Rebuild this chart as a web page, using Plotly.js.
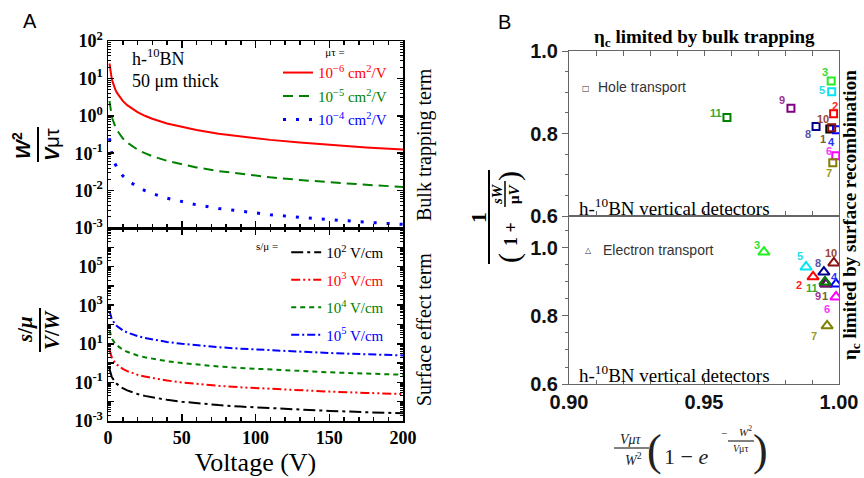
<!DOCTYPE html>
<html><head><meta charset="utf-8">
<script src="https://cdn.plot.ly/plotly-3.0.1.min.js"></script>
<style>html,body{margin:0;padding:0;background:#fff}#chart{width:864px;height:478px}</style>
</head><body><div id="chart"></div>
<script>
// ---------- Data ----------
const voltage = [1, 1.25, 1.5, 2, 2.5, 3, 4, 5, 6, 8, 10, 13, 16, 20, 25, 30, 40, 50, 60, 75, 90, 110, 130, 150, 175, 200];
// Bulk trapping term W^2/(V mu tau)
const bulkMuTau1e6 = [25, 20, 16.7, 12.5, 10, 8.33, 6.25, 5, 4.17, 3.13, 2.5, 1.92, 1.56, 1.25, 1.0, 0.833, 0.625, 0.5, 0.417, 0.333, 0.278, 0.227, 0.192, 0.167, 0.143, 0.125];
const bulkMuTau1e5 = [2.5, 2.0, 1.67, 1.25, 1.0, 0.833, 0.625, 0.5, 0.417, 0.313, 0.25, 0.192, 0.156, 0.125, 0.1, 0.0833, 0.0625, 0.05, 0.0417, 0.0333, 0.0278, 0.0227, 0.0192, 0.0167, 0.0143, 0.0125];
const bulkMuTau1e4 = [0.25, 0.2, 0.167, 0.125, 0.1, 0.0833, 0.0625, 0.05, 0.0417, 0.0313, 0.025, 0.0192, 0.0156, 0.0125, 0.01, 0.00833, 0.00625, 0.005, 0.00417, 0.00333, 0.00278, 0.00227, 0.00192, 0.00167, 0.00143, 0.00125];
// Surface effect term (s/mu)/(V/W)
const surfS1e2 = [0.5, 0.4, 0.333, 0.25, 0.2, 0.167, 0.125, 0.1, 0.0833, 0.0625, 0.05, 0.0385, 0.0313, 0.025, 0.02, 0.0167, 0.0125, 0.01, 0.00833, 0.00667, 0.00556, 0.00455, 0.00385, 0.00333, 0.00286, 0.0025];
const surfS1e3 = [5, 4, 3.33, 2.5, 2, 1.67, 1.25, 1, 0.833, 0.625, 0.5, 0.385, 0.313, 0.25, 0.2, 0.167, 0.125, 0.1, 0.0833, 0.0667, 0.0556, 0.0455, 0.0385, 0.0333, 0.0286, 0.025];
const surfS1e4 = [50, 40, 33.3, 25, 20, 16.7, 12.5, 10, 8.33, 6.25, 5, 3.85, 3.13, 2.5, 2, 1.67, 1.25, 1, 0.833, 0.667, 0.556, 0.455, 0.385, 0.333, 0.286, 0.25];
const surfS1e5 = [500, 400, 333, 250, 200, 167, 125, 100, 83.3, 62.5, 50, 38.5, 31.3, 25, 20, 16.7, 12.5, 10, 8.33, 6.67, 5.56, 4.55, 3.85, 3.33, 2.86, 2.5];
// Panel B detectors
const detectorIds = ['1', '2', '3', '4', '5', '6', '7', '8', '9', '10', '11'];
const holeBulkEff = [0.9966, 0.9980, 0.9971, 0.9991, 0.9973, 0.9988, 0.9977, 0.9915, 0.9822, 0.9973, 0.9585];
const holeSurfEff = [0.811, 0.848, 0.927, 0.809, 0.901, 0.746, 0.729, 0.817, 0.861, 0.814, 0.839];
const elecBulkEff = [0.9952, 0.9904, 0.9722, 0.9989, 0.9878, 0.9989, 0.9956, 0.9944, 0.9950, 0.9981, 0.9948];
const elecSurfEff = [0.894, 0.915, 0.988, 0.894, 0.944, 0.856, 0.771, 0.929, 0.895, 0.956, 0.900];
// Tick labels
const bulkTickVals = [1e-3, 1e-2, 1e-1, 1, 10, 100];
const bulkTickText = ['10<sup>-3</sup>', '10<sup>-2</sup>', '10<sup>-1</sup>', '10<sup>0</sup>', '10<sup>1</sup>', '10<sup>2</sup>'];
const surfTickVals = [1e-3, 1e-2, 1e-1, 1, 10, 100, 1e3, 1e4, 1e5, 1e6, 1e7];
const surfTickText = ['10<sup>-3</sup>', '', '10<sup>-1</sup>', '', '10<sup>1</sup>', '', '10<sup>3</sup>', '', '10<sup>5</sup>', '', ''];
const voltTickVals = [0, 50, 100, 150, 200];
const effTickVals = [0.6, 0.8, 1.0];
const effTickText = ['0.6', '0.8', '1.0'];
const bulkEffTickVals = [0.90, 0.95, 1.00];
const bulkEffTickText = ['0.90', '0.95', '1.00'];

// ---------- Styles ----------
const W = 864, H = 478;
const px = x => x / W, py = y => 1 - y / H;
const markerColors = ['#000000', '#ff0000', '#22ee22', '#0000ff', '#00e5f0', '#ff00ff', '#808000', '#000090', '#800080', '#8b1010', '#008000'];
const labelColors = ['#666633', '#ff2222', '#33dd33', '#2233ff', '#22ddee', '#ff33ff', '#999922', '#5555aa', '#993399', '#994433', '#33aa33'];
const holeLabelDx = [-7, 1, -6, -5, -10, -7, -4, -8, -9, -9, -11];
const holeLabelDy = [10, -8, -9, 12, -2, -5, 10, 8, -8, -9, -4];
const elecLabelDx = [-1, -14, -7, -2, -6, -9, -13, -6, -8, -3, -13];
const elecLabelDy = [12, 8, -7, -7, -11, 12, 10, -9, 12, -10, 6];

function logMinor(a, b) { const v = []; for (let e = a; e < b; e++) for (let d = 2; d <= 9; d++) v.push(d * Math.pow(10, e)); return v; }
const serif = 'Liberation Serif, Times New Roman, serif';
const sans = 'Liberation Sans, Arial, sans-serif';

const traces = [
  {x: voltage, y: bulkMuTau1e6, xaxis: 'x2', yaxis: 'y2', mode: 'lines', line: {color: '#ff0000', width: 2}, legend: 'legend', legendgroup: 'a1',
   name: '<span style="color:#ff0000">10<sup>−6</sup> cm<sup>2</sup>/V</span>'},
  {x: voltage, y: bulkMuTau1e5, xaxis: 'x2', yaxis: 'y2', mode: 'lines', line: {color: '#008000', width: 2, dash: '10px,6px'}, legend: 'legend', legendgroup: 'a2',
   name: '<span style="color:#008000">10<sup>−5</sup> cm<sup>2</sup>/V</span>'},
  {x: voltage, y: bulkMuTau1e4, xaxis: 'x2', yaxis: 'y2', mode: 'lines', line: {color: '#0000ff', width: 3, dash: '3px,10px'}, legend: 'legend', legendgroup: 'a3',
   name: '<span style="color:#0000ff">10<sup>−4</sup> cm<sup>2</sup>/V</span>'},
  {x: voltage, y: surfS1e2, xaxis: 'x', yaxis: 'y', mode: 'lines', line: {color: '#000000', width: 2, dash: '12px,4px,3px,4px'}, legend: 'legend2', legendgroup: 'b1',
   name: '10<sup>2</sup> V/cm'},
  {x: voltage, y: surfS1e3, xaxis: 'x', yaxis: 'y', mode: 'lines', line: {color: '#ff0000', width: 2, dash: '9px,3px,2px,3px,2px,3px'}, legend: 'legend2', legendgroup: 'b2',
   name: '<span style="color:#ff0000">10<sup>3</sup> V/cm</span>'},
  {x: voltage, y: surfS1e4, xaxis: 'x', yaxis: 'y', mode: 'lines', line: {color: '#008000', width: 2, dash: '5px,4px'}, legend: 'legend2', legendgroup: 'b3',
   name: '<span style="color:#008000">10<sup>4</sup> V/cm</span>'},
  {x: voltage, y: surfS1e5, xaxis: 'x', yaxis: 'y', mode: 'lines', line: {color: '#0000ff', width: 2, dash: '8px,3px,2px,3px'}, legend: 'legend2', legendgroup: 'b4',
   name: '<span style="color:#0000ff">10<sup>5</sup> V/cm</span>'},
  {x: holeBulkEff, y: holeSurfEff, xaxis: 'x4', yaxis: 'y4', mode: 'markers', showlegend: false, text: detectorIds, name: 'Hole transport',
   marker: {symbol: 'square-open', size: 7, color: markerColors, line: {width: 2}}},
  {x: elecBulkEff, y: elecSurfEff, xaxis: 'x3', yaxis: 'y3', mode: 'markers', showlegend: false, text: detectorIds, name: 'Electron transport',
   marker: {symbol: 'triangle-up-open', size: 10, color: markerColors, line: {width: 2}}}
];

const axA = {showline: true, linecolor: '#000', linewidth: 1.5, ticks: 'inside', mirror: 'ticks', tickcolor: '#000', tickwidth: 1.5, zeroline: false, showgrid: false};
const axB = {showline: true, linecolor: '#666', linewidth: 1, showgrid: false, zeroline: false, tickcolor: '#666', tickwidth: 1};
const tfA = {family: serif, size: 18, weight: 'bold', color: '#000'};
const tfB = {family: sans, size: 20, weight: 'bold', color: '#111'};
const xDomA = [px(108), px(403)];
const xDomB = [px(569), px(839)];

const layout = {
  width: W, height: H, margin: {l: 0, r: 0, t: 0, b: 0}, paper_bgcolor: '#fff', plot_bgcolor: '#fff', showlegend: true,
  xaxis: Object.assign({}, axA, {domain: xDomA, range: [0, 200], anchor: 'y', tickmode: 'array', tickvals: voltTickVals, ticklen: 7,
    minor: {dtick: 10, ticks: 'inside', ticklen: 4, tickcolor: '#000', tickwidth: 1.5}, tickfont: tfA,
    title: {text: 'Voltage (V)', font: {family: serif, size: 26, color: '#000'}, standoff: 2}}),
  yaxis: Object.assign({}, axA, {domain: [py(421), py(228)], type: 'log', range: [-3, 7], anchor: 'x', tickmode: 'array', tickvals: surfTickVals, ticktext: surfTickText, ticklen: 6,
    minor: {tickmode: 'array', tickvals: logMinor(-3, 7), ticks: 'inside', ticklen: 3, tickcolor: '#000', tickwidth: 1}, tickfont: tfA}),
  xaxis2: Object.assign({}, axA, {domain: xDomA, range: [0, 200], anchor: 'y2', tickmode: 'array', tickvals: voltTickVals, ticklen: 7, showticklabels: false,
    minor: {dtick: 10, ticks: 'inside', ticklen: 4, tickcolor: '#000', tickwidth: 1.5}}),
  yaxis2: Object.assign({}, axA, {domain: [py(228), py(41)], type: 'log', range: [-3, 2], anchor: 'x2', tickmode: 'array', tickvals: bulkTickVals, ticktext: bulkTickText, ticklen: 6,
    minor: {tickmode: 'array', tickvals: logMinor(-3, 2), ticks: 'inside', ticklen: 3, tickcolor: '#000', tickwidth: 1}, tickfont: tfA}),
  xaxis3: Object.assign({}, axB, {domain: xDomB, range: [0.9, 1.0], anchor: 'y3', mirror: true, ticks: 'inside', ticklen: 6, tickmode: 'array', tickvals: bulkEffTickVals, ticktext: bulkEffTickText,
    minor: {dtick: 0.01, ticks: 'inside', ticklen: 4, tickcolor: '#666'}, tickfont: tfB}),
  yaxis3: Object.assign({}, axB, {domain: [py(384), py(216)], range: [0.6, 1.094], anchor: 'x3', mirror: true, ticks: 'outside', ticklen: 6, tickmode: 'array', tickvals: effTickVals, ticktext: effTickText,
    minor: {dtick: 0.05, ticks: 'outside', ticklen: 3, tickcolor: '#666'}, tickfont: tfB}),
  xaxis4: Object.assign({}, axB, {domain: xDomB, range: [0.9, 1.0], anchor: 'y4', mirror: 'ticks', ticks: 'inside', ticklen: 5, showticklabels: false, dtick: 0.01, tick0: 0.9}),
  yaxis4: Object.assign({}, axB, {domain: [py(216), py(51)], range: [0.6, 1.0], anchor: 'x4', mirror: true, ticks: 'outside', ticklen: 6, tickmode: 'array', tickvals: effTickVals, ticktext: effTickText,
    minor: {dtick: 0.05, ticks: 'outside', ticklen: 3, tickcolor: '#666'}, tickfont: tfB}),
  legend: {x: px(278), xanchor: 'left', y: py(42), yanchor: 'top', bgcolor: 'rgba(0,0,0,0)', borderwidth: 0, traceorder: 'grouped', tracegroupgap: 1,
    font: {family: serif, size: 15, color: '#000'}, title: {text: 'μτ =', side: 'top center', font: {family: serif, size: 11, color: '#000'}}},
  legend2: {x: px(254), xanchor: 'left', y: py(236), yanchor: 'top', bgcolor: 'rgba(0,0,0,0)', borderwidth: 0, traceorder: 'grouped', tracegroupgap: 5,
    font: {family: serif, size: 15, color: '#000'}, title: {text: 's/μ =', side: 'left', font: {family: serif, size: 11, color: '#000'}}},
  shapes: [], annotations: []
};

const ann = (x, y, text, font, extra) => Object.assign({xref: 'paper', yref: 'paper', x: px(x), y: py(y), text: text, showarrow: false, xanchor: 'center', yanchor: 'middle', font: font}, extra || {});
const line = (x0, y0, x1, y1, w) => ({type: 'line', xref: 'paper', yref: 'paper', x0: px(x0), y0: py(y0), x1: px(x1), y1: py(y1), line: {color: '#000', width: w || 1.5}});
const A = layout.annotations, S = layout.shapes;

// panel letters
A.push(ann(30, 21, 'A', {family: sans, size: 20, color: '#000'}));
A.push(ann(505, 22, 'B', {family: sans, size: 20, color: '#000'}));
// panel A texts
A.push(ann(130, 57, 'h-<sup>10</sup>BN', {family: serif, size: 18, color: '#000'}, {xanchor: 'left'}));
A.push(ann(130, 81, '50 μm thick', {family: serif, size: 18, color: '#000'}, {xanchor: 'left'}));
A.push(ann(424, 145, 'Bulk trapping term', {family: serif, size: 20, color: '#000'}, {textangle: -90}));
A.push(ann(424, 330, 'Surface effect term', {family: serif, size: 20, color: '#000'}, {textangle: -90}));
// panel A y titles (fractions)
A.push(ann(21, 146, '<b><i>W</i><sup>2</sup></b>', {family: sans, size: 20, color: '#000'}, {textangle: -90}));
S.push(line(38, 127, 38, 162, 2));
A.push(ann(52, 145, '<b><i>V</i></b>μτ', {family: sans, size: 20, color: '#000'}, {textangle: -90}));
A.push(ann(25, 330, '<b><i>s</i>/<i>μ</i></b>', {family: serif, size: 21, color: '#000'}, {textangle: -90}));
S.push(line(40, 308, 40, 352, 2));
A.push(ann(52, 330, '<b><i>V</i>/<i>W</i></b>', {family: serif, size: 21, color: '#000'}, {textangle: -90}));
// panel B texts
A.push(ann(704, 38, 'η<sub>c</sub> limited by bulk trapping', {family: serif, size: 19, weight: 'bold', color: '#000'}));
A.push(ann(851, 215, 'η<sub>c</sub> limited by surface recombination', {family: serif, size: 19, weight: 'bold', color: '#000'}, {textangle: -90}));
A.push(ann(577, 207, 'h-<sup>10</sup>BN vertical detectors', {family: serif, size: 19, color: '#000'}, {xanchor: 'left'}));
A.push(ann(577, 374, 'h-<sup>10</sup>BN vertical detectors', {family: serif, size: 19, color: '#000'}, {xanchor: 'left'}));
A.push(ann(586, 88, '□', {family: 'DejaVu Sans', size: 8, color: '#333'}));
A.push(ann(596, 87, 'Hole transport', {family: sans, size: 14, color: '#333'}, {xanchor: 'left'}));
A.push(ann(588, 251, '△', {family: 'DejaVu Sans', size: 8, color: '#333'}));
A.push(ann(601, 250, 'Electron transport', {family: sans, size: 14, color: '#333'}, {xanchor: 'left'}));
// panel B y title: 1 / (1 + sW/μV)
A.push(ann(478, 217, '<b>1</b>', {family: serif, size: 22, color: '#000'}, {textangle: -90}));
S.push(line(489, 170, 489, 264, 2));
A.push(ann(509, 258, '(', {family: serif, size: 30, color: '#000'}, {textangle: -90}));
A.push(ann(511, 234, '1 +', {family: serif, size: 18, weight: 'bold', color: '#000'}, {textangle: -90}));
A.push(ann(497, 194, '<b><i>sW</i></b>', {family: serif, size: 15, color: '#000'}, {textangle: -90}));
S.push(line(505, 181, 505, 207, 1.5));
A.push(ann(514, 194, '<b>μ<i>V</i></b>', {family: serif, size: 15, color: '#000'}, {textangle: -90}));
A.push(ann(509, 176, ')', {family: serif, size: 30, color: '#000'}, {textangle: -90}));
// panel B x title
A.push(ann(631, 439, '<i>Vμτ</i>', {family: serif, size: 14, color: '#222'}));
S.push(line(614, 448, 649, 448, 1));
A.push(ann(633, 459, '<i>W</i><sup>2</sup>', {family: serif, size: 14, color: '#222'}));
A.push(ann(654, 450, '(', {family: serif, size: 44, color: '#222'}));
A.push(ann(686, 456, '1 − <i>e</i>', {family: serif, size: 22, color: '#222'}));
A.push(ann(724, 433, '−', {family: serif, size: 11, color: '#222'}));
A.push(ann(745, 431, '<i>W</i><sup>2</sup>', {family: serif, size: 11, color: '#222'}));
S.push(line(728, 441, 754, 441, 1));
A.push(ann(741, 448, '<i>V</i>μτ', {family: serif, size: 10, color: '#222'}));
A.push(ann(760, 450, ')', {family: serif, size: 44, color: '#222'}));
// detector labels
detectorIds.forEach((id, i) => {
  A.push({xref: 'x4', yref: 'y4', x: holeBulkEff[i], y: holeSurfEff[i], text: id, showarrow: false, xshift: holeLabelDx[i], yshift: -holeLabelDy[i],
    font: {family: sans, size: 11, weight: 'bold', color: labelColors[i]}});
  A.push({xref: 'x3', yref: 'y3', x: elecBulkEff[i], y: elecSurfEff[i], text: id, showarrow: false, xshift: elecLabelDx[i], yshift: -elecLabelDy[i],
    font: {family: sans, size: 11, weight: 'bold', color: labelColors[i]}});
});

Plotly.newPlot('chart', traces, layout, {displayModeBar: false, staticPlot: true});
</script></body></html>
